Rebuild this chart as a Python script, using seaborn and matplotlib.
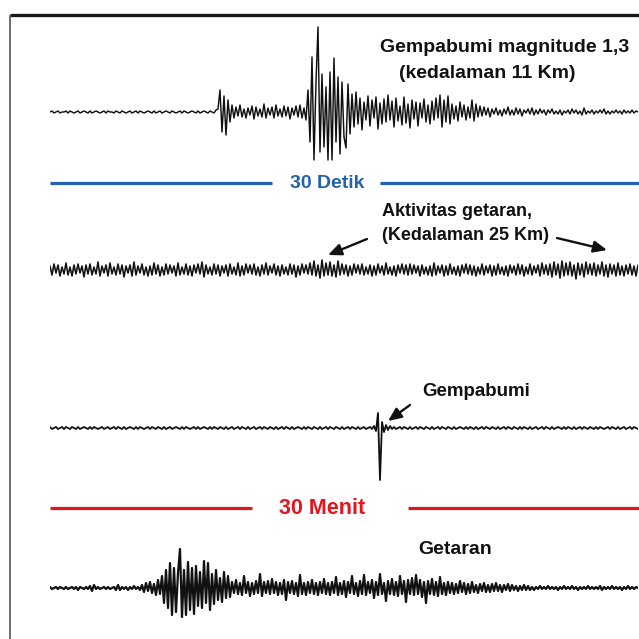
import numpy as np
import pandas as pd
import matplotlib
matplotlib.use("Agg")
import matplotlib.pyplot as plt
import seaborn as sns

# ---------------- data (trace amplitudes, one sample per step) ----------------
trace_quake_sec = [
    0,1,-1,0,1,-1,0,0,1,-1,
    1,0,-1,0,1,-1,0,1,0,-1,
    1,-1,0,1,0,-1,0,1,-1,1,
    0,0,-1,1,0,-1,1,0,-1,0,
    1,-1,0,1,-1,1,0,-1,0,1,
    0,-1,1,-1,0,1,-1,0,1,0,
    -1,1,0,-1,0,1,-1,1,0,-1,
    0,1,0,-1,1,-1,0,1,0,-1,
    1,0,-1,2,
    3,22,-20,16,-23,12,-10,7,
    -6,5,-4,7,-5,3,-6,4,-3,6,-7,5,-4,3,-5,8,-6,4,-3,5,-6,7,-4,3,-5,6,-4,5,-7,4,-3,6,-5,7,-6,4,-8,
    22,-30,55,-48,30,85,-40,38,-35,25,-48,40,-48,54,-30,35,-42,30,-25,-36,28,-22,
    18,-15,20,-12,14,-18,10,-8,16,-14,
    12,-6,15,-17,9,-12,13,-10,17,-8,
    11,-15,14,-9,6,-13,15,-11,8,-16,
    12,-7,10,-14,9,-6,13,-10,7,-12,
    11,-8,14,-6,17,-15,12,-10,16,-12,
    8,-7,6,-9,10,-5,7,-8,5,-6,
    12,-9,8,-5,6,
    -4,5,-3,4,-5,3,-2,4,-3,2,
    -4,3,-2,5,-3,2,-3,4,-2,3,
    -4,2,-1,3,-2,4,-3,2,-2,3,
    -1,2,-3,2,-1,3,-2,1,-2,2,
    -3,1,-1,2,-2,3,-1,2,-2,1,
    -3,4,-2,1,-1,2,-2,1,-1,2,
    -1,3,-2,1,-2,1,-1,2,-1,1,
    -2,2,-1,1,-1,2,-1,1,0,
]

trace_tremor_sec = [
    4,-5,6,-3,5,-6,3,-4,7,-5,
    3,-6,5,-4,6,-3,4,-7,5,-4,
    6,-5,3,-4,8,-6,4,-3,5,-6,
    7,-4,3,-5,6,-4,5,-7,4,-3,
    5,-6,8,-5,4,-3,6,-5,3,-6,
    4,-5,7,-4,5,-6,3,-5,6,-4,
    5,-3,4,-6,7,-5,3,-4,6,-5,
    4,-6,5,-3,6,-4,8,-7,5,-4,
    3,-5,6,-4,5,-6,4,-3,5,-6,
    6,-4,3,-5,7,-6,4,-5,6,-3,
    5,-4,6,-5,3,-6,5,-4,7,-5,
    4,-3,6,-5,4,-6,5,-4,3,-5,
    6,-4,5,-7,4,-5,6,-3,5,-4,
    7,-5,9,-6,5,-8,10,-6,7,-5,
    8,-6,5,-7,9,-5,6,-4,5,-6,
    4,-5,6,-3,5,-4,6,-5,3,-4,
    5,-6,4,-5,6,-3,4,-5,7,-4,
    3,-5,4,-6,5,-3,6,-4,5,-5,
    6,-4,5,-3,4,-6,5,-4,3,-5,
    4,-6,7,-5,4,-3,5,-6,4,-5,
    6,-4,3,-5,4,-6,5,-3,6,-4,
    5,-5,4,-6,3,-4,6,-5,4,-3,
    5,-6,4,-5,6,-4,3,-5,4,-6,
    5,-3,4,-5,6,-4,5,-6,3,-4,
    6,-5,4,-3,5,-6,7,-4,5,-5,
    6,-7,8,-5,6,-8,9,-6,7,-5,
    8,-6,5,-9,7,-5,6,-7,8,-4,
    6,-5,7,-6,5,-4,8,-6,5,-7,
    6,-4,5,-6,7,-5,4,-6,5,-4,
    6,-5,4,-6,5,
]

trace_quake_min = [
    1,-1,0,1,-1,0,1,-1,1,0,
    -1,1,0,-1,1,-1,0,1,0,-1,
    1,-1,1,0,-1,0,1,-1,0,1,
    -1,0,1,-1,1,0,-1,1,-1,0,
    1,0,-1,1,-1,1,0,-1,0,1,
    -1,1,0,-1,1,0,-1,1,-1,0,
    1,-1,0,1,0,-1,1,-1,1,0,
    -1,0,1,-1,1,-1,0,1,0,-1,
    1,-1,1,0,-1,1,0,-1,1,-1,
    0,1,-1,0,1,-1,1,0,-1,1,
    -1,0,1,-1,0,1,-1,1,0,-1,
    1,0,-1,1,-1,0,1,-1,1,0,
    -1,1,-1,0,1,0,-1,1,-1,1,
    0,-1,1,0,-1,1,-1,0,1,-1,
    1,0,-1,1,0,-1,1,-1,0,1,
    -1,1,0,-1,1,-1,0,1,-1,0,
    1,-1,2,-3,15,-52,6,-4,3,-2,
    2,-1,1,-1,0,1,-1,1,0,-1,
    1,-1,0,1,-1,1,0,-1,1,0,
    -1,1,-1,0,1,-1,1,0,-1,1,
    0,-1,1,-1,0,1,0,-1,1,-1,
    1,0,-1,1,-1,0,1,-1,1,0,
    -1,1,0,-1,1,-1,0,1,-1,1,
    0,-1,1,0,-1,1,-1,1,0,-1,
    1,-1,0,1,-1,0,1,-1,1,0,
    -1,1,-1,0,1,0,-1,1,-1,1,
    0,-1,1,-1,0,1,-1,1,0,-1,
    1,0,-1,1,-1,1,0,-1,0,1,
    -1,1,0,-1,1,-1,0,1,-1,0,
    1,-1,1,0,-1,
]

trace_tremor_min = [
    1,-1,0,1,-1,1,0,-1,1,-1,
    0,1,-1,1,-2,1,0,-1,1,-1,
    2,-3,3,-1,1,-1,0,1,-1,1,
    -1,0,1,-2,3,-2,1,-1,1,-2,
    1,-1,2,-1,1,-2,
    3,-4,5,-3,6,-5,4,-7,8,-6,
    12,-15,18,-20,25,-27,20,-24,15,39,
    -29,18,-27,26,-22,20,-26,22,-18,16,
    -20,27,-15,25,-22,14,-16,18,-12,10,
    -14,16,-10,12,-9,
    6,-5,8,-6,5,-7,12,-5,6,-8,
    5,-6,7,-5,14,-8,6,-5,7,-6,
    9,-5,6,-7,5,-6,8,-12,6,-5,
    7,-6,5,-8,13,-6,5,-7,6,-5,
    8,-6,5,-7,6,-5,9,-6,5,-7,
    6,-5,11,-7,5,-6,7,-9,6,-5,
    12,-6,5,-8,7,-6,13,-7,6,-5,
    8,-10,6,-7,14,-6,5,-13,7,-6,
    9,-7,6,-8,12,-6,7,-14,8,-6,
    10,-7,13,-6,8,-9,6,-15,7,-6,
    9,-7,6,-8,11,-6,5,-7,6,-5,
    5,-6,4,-5,7,-4,5,-6,4,-5,
    6,-4,3,-5,4,-3,5,-4,3,-4,
    4,-3,5,-3,3,-4,3,-2,4,-3,
    3,-2,2,-3,2,-2,3,-2,2,-2,
    1,-2,1,-1,2,-1,1,-1,2,-1,
    1,-1,1,-2,1,-1,2,-1,1,-1,
    2,-1,1,-2,1,-1,1,-1,2,-1,
    1,-1,1,-1,2,-2,1,-1,1,-1,
    2,-1,1,-1,1,-2,1,-1,2,-1,
    1,-1,1,0,
]

labels_top = ["Gempabumi magnitude 1,3", "(kedalaman 11 Km)"]
labels_tremor = ["Aktivitas getaran,", "(Kedalaman 25 Km)"]
label_quake = "Gempabumi"
label_tremor = "Getaran"
scale_sec = "30 Detik"
scale_min = "30 Menit"

# ---------------- layout ----------------
sns.set_style("white")
plt.rcParams["font.family"] = ["Liberation Sans", "DejaVu Sans"]

W = H = 639
fig = plt.figure(figsize=(6.39, 6.39), dpi=100)
fig.patch.set_facecolor("white")

# annotation layer in pixel coordinates
ax0 = fig.add_axes([0, 0, 1, 1])
ax0.set_xlim(0, W)
ax0.set_ylim(H, 0)
ax0.axis("off")

# frame
ax0.plot([10, W], [15, 15], color="#1a1a1a", lw=2.4, solid_capstyle="butt")
ax0.plot([10, 10], [15, H], color="#555555", lw=1.2, solid_capstyle="butt")

# scale bars
blue = "#2461ad"
red = "#e3161d"
ax0.plot([50, 272], [183, 183], color=blue, lw=2.3, solid_capstyle="butt")
ax0.plot([380, W], [183, 183], color=blue, lw=2.3, solid_capstyle="butt")
ax0.text(327, 184, scale_sec, color=blue, fontsize=14, fontweight="bold",
         ha="center", va="center")
ax0.plot([50, 252], [508, 508], color=red, lw=2.3, solid_capstyle="butt")
ax0.plot([408, W], [508, 508], color=red, lw=2.3, solid_capstyle="butt")
ax0.text(322, 509, scale_min, color=red, fontsize=15.5, fontweight="bold",
         ha="center", va="center")

# labels
txt = dict(color="#111111", fontweight="bold")
ax0.text(505, 47, labels_top[0], fontsize=14, ha="center", va="center", **txt)
ax0.text(487, 73, labels_top[1], fontsize=14, ha="center", va="center", **txt)
ax0.text(382, 212, labels_tremor[0], fontsize=13, ha="left", va="center", **txt)
ax0.text(382, 236, labels_tremor[1], fontsize=13, ha="left", va="center", **txt)
ax0.text(476, 392, label_quake, fontsize=13.5, ha="center", va="center", **txt)
ax0.text(455, 549, label_tremor, fontsize=14, ha="center", va="center", **txt)

arrow = dict(arrowstyle="-|>,head_length=0.8,head_width=0.35", color="#111111", lw=1.7,
             shrinkA=0, shrinkB=0)
ax0.annotate("", xy=(328, 255), xytext=(367, 239), arrowprops=arrow)
ax0.annotate("", xy=(607, 250), xytext=(557, 238), arrowprops=arrow)
ax0.annotate("", xy=(388, 421), xytext=(410, 405), arrowprops=arrow)

# traces, each on its own transparent axes (1 amplitude unit = 1 px)
traces = [
    (trace_quake_sec, 112, 1.05),
    (trace_tremor_sec, 270, 1.15),
    (trace_quake_min, 428, 1.3),
    (trace_tremor_min, 588, 1.6),
]
x_left, x_right = 50, 638
half = 90
for values, base, lw in traces:
    n = len(values)
    df = pd.DataFrame({"sample": np.arange(n), "amp": values})
    ax = fig.add_axes([x_left / W, (H - base - half) / H,
                       (x_right - x_left) / W, 2 * half / H])
    ax.patch.set_alpha(0)
    sns.lineplot(data=df, x="sample", y="amp", ax=ax, color="#111111",
                 lw=lw, estimator=None, sort=False)
    ax.set_xlim(0, n - 1)
    ax.set_ylim(-half, half)
    ax.axis("off")

fig.savefig("out.png", dpi=100, facecolor="white")
